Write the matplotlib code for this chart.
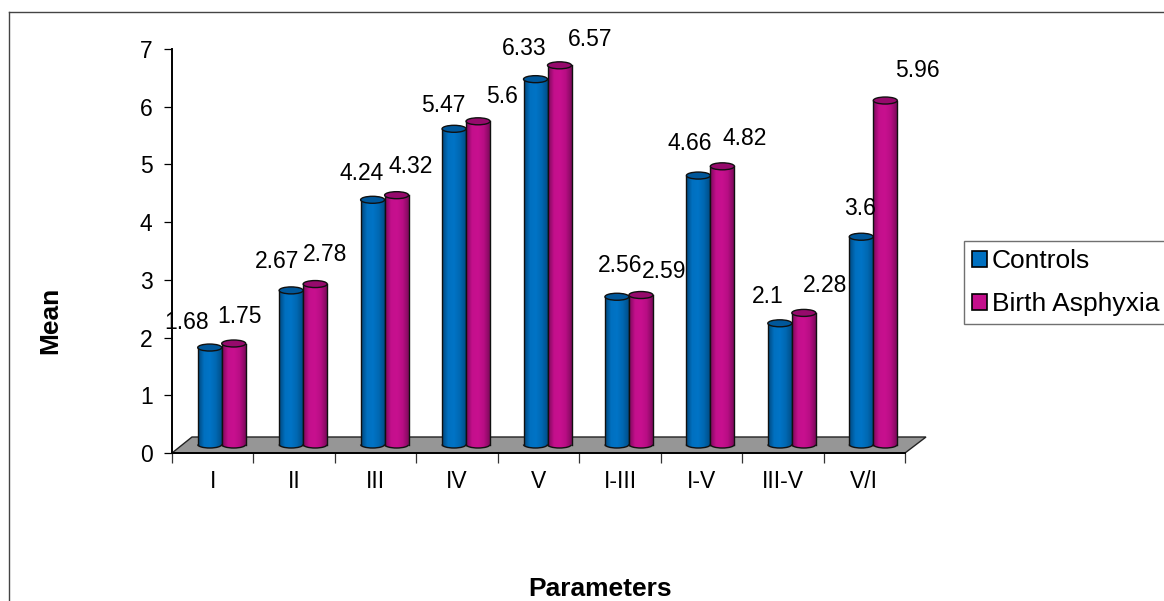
import numpy as np
import matplotlib
matplotlib.use('Agg')
import matplotlib.pyplot as plt
from matplotlib.colors import LinearSegmentedColormap
from matplotlib.lines import Line2D
from matplotlib.patches import Arc, Ellipse, Patch, Polygon

plt.rcParams['font.family'] = ['Liberation Sans', 'DejaVu Sans']

categories = ['I', 'II', 'III', 'IV', 'V', 'I-III', 'I-V', 'III-V', 'V/I']
controls = [1.68, 2.67, 4.24, 5.47, 6.33, 2.56, 4.66, 2.1, 3.6]
asphyxia = [1.75, 2.78, 4.32, 5.6, 6.57, 2.59, 4.82, 2.28, 5.96]

W, H = 1164, 601
fig = plt.figure(figsize=(W / 100, H / 100), dpi=100)
ax = fig.add_axes([172 / W, 1 - 453 / H, 733 / W, 404 / H])
ax.set_xlim(0, 9)
ax.set_ylim(0, 7)

# pixel sizes turned into data units
px_x = 9 / 733
px_y = 7 / 404
base = 8.5 * px_y
bar_w = 24 * px_x
ell_h = 7 * px_y

cm_blue = LinearSegmentedColormap.from_list('b', ['#00477c', '#0070c0', '#0074c6', '#0068b2', '#004e88'])
cm_mag = LinearSegmentedColormap.from_list('m', ['#7c0a5a', '#c40f8c', '#c8108f', '#b80d84', '#7e0a5c'])


def cylinder(x, v, cmap, top_col, z):
    left = x - bar_w / 2
    grad = np.linspace(0, 1, 64).reshape(1, -1)
    body = ax.bar(x, v, bar_w, bottom=base, color='none', linewidth=0, zorder=z)[0]
    im = ax.imshow(grad, cmap=cmap, extent=[left, left + bar_w, base, base + v],
                   aspect='auto', zorder=z)
    im.set_clip_path(body)
    foot = Ellipse((x, base), bar_w, ell_h, facecolor='none', edgecolor='none', zorder=z)
    ax.add_patch(foot)
    im2 = ax.imshow(grad, cmap=cmap, extent=[left, left + bar_w, base - ell_h, base + ell_h],
                    aspect='auto', zorder=z)
    im2.set_clip_path(foot)
    ax.plot([left, left], [base, base + v], color='#101010', lw=1, zorder=z + 0.1)
    ax.plot([left + bar_w, left + bar_w], [base, base + v], color='#101010', lw=1, zorder=z + 0.1)
    ax.add_patch(Arc((x, base), bar_w, ell_h, theta1=180, theta2=360, color='#101010', lw=1, zorder=z + 0.1))
    ax.add_patch(Ellipse((x, base + v), bar_w, ell_h, facecolor=top_col, edgecolor='#101010', lw=1, zorder=z + 0.2))


# grey floor of the 3d chart
floor = Polygon([(0, 0), (9, 0), (9 + 21 * px_x, 16 * px_y), (20 * px_x, 16 * px_y)],
                closed=True, facecolor='#969696', edgecolor='#222222', lw=1, zorder=1, clip_on=False)
ax.add_patch(floor)

dx_c = [-23, -14, -11, -11, -11, 3, -9, -12, -1]
dy_c = [25, 29, 26, 23, 31, 31, 32, 27, 28]
dx_a = [6, 10, 14, 24, 31, 23, 22, 21, 32]
dy_a = [27, 30, 29, 25, 26, 24, 28, 27, 30]

for i, cat in enumerate(categories):
    xb = i + 0.5 - 3 * px_x
    xm = xb + 24 * px_x
    cylinder(xb, controls[i], cm_blue, '#00579a', 2 + i * 0.01)
    cylinder(xm, asphyxia[i], cm_mag, '#960a6c', 3 + i * 0.01)
    ax.annotate(str(controls[i]), (xb, base + controls[i]), xytext=(dx_c[i] * 0.72, dy_c[i] * 0.72),
                textcoords='offset points', ha='center', va='center', fontsize=16.5, color='black', zorder=10)
    ax.annotate(str(asphyxia[i]), (xm, base + asphyxia[i]), xytext=(dx_a[i] * 0.72, dy_a[i] * 0.72),
                textcoords='offset points', ha='center', va='center', fontsize=16.5, color='black', zorder=10)

ax.set_xlim(0, 9)
ax.set_ylim(0, 7)
ax.patch.set_alpha(0)
for s in ['top', 'right']:
    ax.spines[s].set_visible(False)
for s in ['left', 'bottom']:
    ax.spines[s].set_linewidth(1.4)
    ax.spines[s].set_zorder(5)

ax.set_yticks(range(8))
ax.set_xticks(range(10))
ax.set_xticklabels([])
ax.set_xticks(np.arange(9) + 0.5, categories, minor=True)
ax.tick_params(axis='x', which='minor', length=0, labelsize=16.5, pad=12)
ax.tick_params(axis='x', which='major', length=7, width=0.9, color='#333333')
ax.tick_params(axis='y', length=6, width=0.9, labelsize=16.5, pad=8)

fig.text(50 / W, 1 - 320 / H, 'Mean', rotation=90, ha='center', va='center', fontsize=19, fontweight='bold')
fig.text(600 / W, 1 - 589 / H, 'Parameters', ha='center', va='center', fontsize=19, fontweight='bold')

handles = [Patch(facecolor='#0070c0', edgecolor='black', lw=1.2, label='Controls'),
           Patch(facecolor='#c40f8c', edgecolor='black', lw=1.2, label='Birth Asphyxia')]
fig.legend(handles=handles, loc='upper left', bbox_to_anchor=(964 / W, 1 - 241.5 / H), borderaxespad=0,
           fontsize=19, fancybox=False, edgecolor='#707070', framealpha=1, handlelength=0.57,
           handleheight=0.57, handletextpad=0.19, labelspacing=0.72, borderpad=0.3)

# outer chart frame, cut off at right and bottom
fig.add_artist(Line2D([9 / W, 9 / W], [0, 1 - 12 / H], color='#444444', lw=1))
fig.add_artist(Line2D([9 / W, 1], [1 - 12 / H, 1 - 12 / H], color='#444444', lw=1))

fig.savefig('out.png', dpi=100)
